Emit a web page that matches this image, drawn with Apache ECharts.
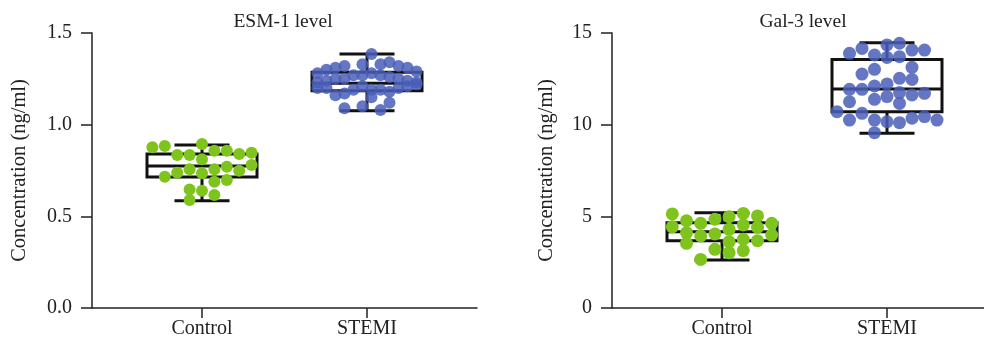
<!DOCTYPE html>
<html><head><meta charset="utf-8">
<script src="https://cdn.jsdelivr.net/npm/echarts@6/dist/echarts.min.js"></script>
<style>html,body{margin:0;padding:0;background:#fff}#c{width:984px;height:348px}</style>
</head><body><div id="c"></div>
<script>
// ---------- data ----------
const categories = ['Control', 'STEMI'];
const categoryPos = [1, 2.5];
const titles = ['ESM-1 level', 'Gal-3 level'];
const yAxisName = 'Concentration (ng/ml)';
const esmTicks = { min: 0, max: 1.5, interval: 0.5 };
const galTicks = { min: 0, max: 15, interval: 5 };

// box stats: [lower whisker, Q1, median, Q3, upper whisker]
const esmControlBox = [0.585, 0.715, 0.775, 0.84, 0.889];
const esmStemiBox   = [1.076, 1.185, 1.226, 1.286, 1.385];
const galControlBox = [2.62, 3.67, 4.16, 4.65, 5.2];
const galStemiBox   = [9.53, 10.71, 11.94, 13.56, 14.47];

// individual points: values and jitter column index
const esmControlVals = [0.877,0.884,0.895,0.835,0.835,0.811,0.858,0.858,0.84,0.847,0.716,0.738,0.757,0.735,0.757,0.771,0.749,0.78,0.689,0.698,0.647,0.64,0.616,0.589];
const esmControlCols = [-4,-3,0,-2,-1,0,1,2,3,4,-3,-2,-1,0,1,2,3,4,1,2,-1,0,1,-1];

const esmStemiVals = [1.385,
  1.28,1.30,1.31,1.32,1.33,1.33,1.34,1.32,1.31,1.29,
  1.23,1.24,1.25,1.25,1.27,1.27,1.28,1.27,1.26,1.25,1.24,1.23,
  1.20,1.20,1.16,1.17,1.19,1.21,1.19,1.19,1.18,1.20,1.21,1.22,
  1.15,1.12,
  1.09,1.10,1.08];
const esmStemiCols = [0.5,
  -5.5,-4.5,-3.5,-2.5,-0.5,1.5,2.5,3.5,4.5,5.5,
  -5.5,-4.5,-3.5,-2.5,-1.5,-0.5,0.5,1.5,2.5,3.5,4.5,5.5,
  -5.5,-4.5,-3.5,-2.5,-1.5,-0.5,0.5,1.5,2.5,3.5,4.5,5.5,
  0.5,2.5,
  -2.5,-0.5,1.5];

const galControlVals = [5.13,4.43,4.76,4.11,3.53,4.62,3.93,2.65,4.84,4.04,3.2,4.98,4.29,3.62,3.02,5.16,4.53,3.75,3.13,5.02,4.4,3.67,4.62,3.98];
const galControlCols = [-3.5,-3.5,-2.5,-2.5,-2.5,-1.5,-1.5,-1.5,-0.5,-0.5,-0.5,0.5,0.5,0.5,0.5,1.5,1.5,1.5,1.5,2.5,2.5,2.5,3.5,3.5];

const galStemiVals = [10.71,13.89,11.93,11.25,10.25,14.16,12.76,11.93,10.62,13.8,13.02,12.11,11.38,10.25,9.56,14.35,13.67,12.22,11.53,10.16,14.44,13.71,12.53,11.75,11.16,10.11,14.07,13.13,12.47,11.62,10.35,14.07,11.71,10.44,10.25];
const galStemiCols = [-4,-3,-3,-3,-3,-2,-2,-2,-2,-1,-1,-1,-1,-1,-1,0,0,0,0,0,1,1,1,1,1,1,2,2,2,2,2,3,3,3,4];

// ---------- layout / style ----------
const FONT = 'Liberation Serif';
const TEXT = '#222';
const GREEN = '#7fc41c';
const BLUE = '#4a5eb8';
const PX_PER_UNIT = 110; // x scale: grid width / axis span
const jitterStep = { esmControl: 12.4, esmStemi: 9, galControl: 14.2, galStemi: 12.5 };

function pts(vals, cols, pos, stepPx) {
  return vals.map((v, i) => [pos + cols[i] * stepPx / PX_PER_UNIT, v]);
}

function boxRender(params, api) {
  const x = api.value(0);
  const lo = api.value(1), q1 = api.value(2), med = api.value(3), q3 = api.value(4), hi = api.value(5);
  const hw = api.size([0.5, 0])[0];
  const cw = hw / 2;
  const pLo = api.coord([x, lo]), pQ1 = api.coord([x, q1]), pMed = api.coord([x, med]),
        pQ3 = api.coord([x, q3]), pHi = api.coord([x, hi]);
  const st = { stroke: '#111', lineWidth: 3, fill: 'none' };
  return { type: 'group', children: [
    { type: 'rect', shape: { x: pQ1[0] - hw, y: pQ3[1], width: 2 * hw, height: pQ1[1] - pQ3[1] }, style: st },
    { type: 'line', shape: { x1: pMed[0] - hw, y1: pMed[1], x2: pMed[0] + hw, y2: pMed[1] }, style: st },
    { type: 'line', shape: { x1: pHi[0], y1: pHi[1], x2: pQ3[0], y2: pQ3[1] }, style: st },
    { type: 'line', shape: { x1: pLo[0], y1: pLo[1], x2: pQ1[0], y2: pQ1[1] }, style: st },
    { type: 'line', shape: { x1: pHi[0] - cw, y1: pHi[1], x2: pHi[0] + cw, y2: pHi[1] }, style: st },
    { type: 'line', shape: { x1: pLo[0] - cw, y1: pLo[1], x2: pLo[0] + cw, y2: pLo[1] }, style: st }
  ]};
}

const GRID_W = [385, 372];
function xAxis(gi) {
  return {
    gridIndex: gi, type: 'value', min: 0, max: GRID_W[gi] / PX_PER_UNIT,
    axisLine: { show: true, lineStyle: { color: TEXT, width: 1.5 } },
    axisTick: { show: true, customValues: categoryPos, length: 10, lineStyle: { color: TEXT, width: 1.5 } },
    axisLabel: { customValues: categoryPos, margin: 11, fontFamily: FONT, fontSize: 20, color: TEXT,
      formatter: v => categories[categoryPos.indexOf(v)] || '' },
    splitLine: { show: false }
  };
}
function yAxis(gi, t, fmt, gap) {
  return {
    gridIndex: gi, type: 'value', min: t.min, max: t.max, interval: t.interval,
    name: yAxisName, nameLocation: 'middle', nameGap: gap,
    nameTextStyle: { fontFamily: FONT, fontSize: 20.5, color: TEXT },
    axisLine: { show: true, lineStyle: { color: TEXT, width: 1.5 } },
    axisTick: { show: true, length: 11, lineStyle: { color: TEXT, width: 1.5 } },
    axisLabel: { margin: 20, fontFamily: FONT, fontSize: 20, color: TEXT, formatter: fmt },
    splitLine: { show: false }
  };
}

const chart = echarts.init(document.getElementById('c'), null, { renderer: 'canvas' });
chart.setOption({
  animation: false,
  backgroundColor: '#fff',
  title: [
    { text: titles[0], left: 278, top: 7, textAlign: 'center', textStyle: { fontFamily: FONT, fontSize: 19.5, fontWeight: 'normal', color: TEXT } },
    { text: titles[1], left: 798, top: 7, textAlign: 'center', textStyle: { fontFamily: FONT, fontSize: 19.5, fontWeight: 'normal', color: TEXT } }
  ],
  grid: [
    { left: 92, top: 33, width: GRID_W[0], height: 275 },
    { left: 612, top: 33, width: GRID_W[1], height: 275 }
  ],
  xAxis: [xAxis(0), xAxis(1)],
  yAxis: [
    yAxis(0, esmTicks, v => v.toFixed(1), 62),
    yAxis(1, galTicks, v => String(v), 55)
  ],
  series: [
    { type: 'custom', xAxisIndex: 0, yAxisIndex: 0, renderItem: boxRender, z: 1,
      encode: { x: 0, y: [1, 2, 3, 4, 5] },
      data: [[categoryPos[0], ...esmControlBox], [categoryPos[1], ...esmStemiBox]] },
    { type: 'custom', xAxisIndex: 1, yAxisIndex: 1, renderItem: boxRender, z: 1,
      encode: { x: 0, y: [1, 2, 3, 4, 5] },
      data: [[categoryPos[0], ...galControlBox], [categoryPos[1], ...galStemiBox]] },
    { type: 'scatter', xAxisIndex: 0, yAxisIndex: 0, z: 3, symbolSize: 12,
      itemStyle: { color: GREEN, opacity: 1 },
      data: pts(esmControlVals, esmControlCols, categoryPos[0], jitterStep.esmControl) },
    { type: 'scatter', xAxisIndex: 0, yAxisIndex: 0, z: 3, symbolSize: 12,
      itemStyle: { color: BLUE, opacity: 0.85 },
      data: pts(esmStemiVals, esmStemiCols, categoryPos[1], jitterStep.esmStemi) },
    { type: 'scatter', xAxisIndex: 1, yAxisIndex: 1, z: 3, symbolSize: 13,
      itemStyle: { color: GREEN, opacity: 1 },
      data: pts(galControlVals, galControlCols, categoryPos[0], jitterStep.galControl) },
    { type: 'scatter', xAxisIndex: 1, yAxisIndex: 1, z: 3, symbolSize: 13,
      itemStyle: { color: BLUE, opacity: 0.85 },
      data: pts(galStemiVals, galStemiCols, categoryPos[1], jitterStep.galStemi) }
  ]
});
</script>
</body></html>
